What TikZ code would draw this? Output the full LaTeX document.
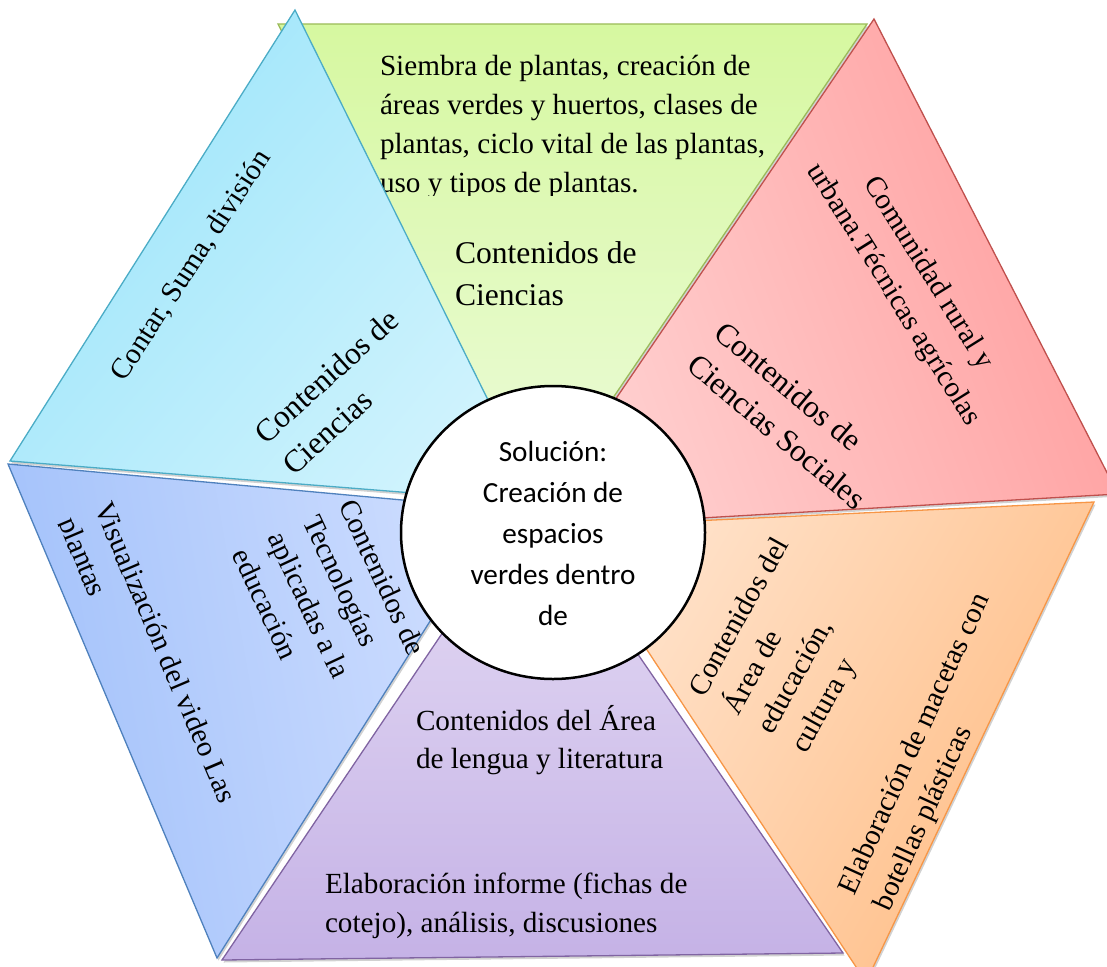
\documentclass[tikz,border=0pt]{standalone}
\usepackage{fontspec}
\setmainfont{Liberation Serif}
\newfontfamily\calibfont{Carlito}
\usetikzlibrary{shadows,shapes.geometric}
\definecolor{grnE}{HTML}{9BBB59}\definecolor{grnA}{HTML}{D6F8A0}\definecolor{grnB}{HTML}{EDFBDC}
\definecolor{cyaE}{HTML}{4BACC6}\definecolor{cyaA}{HTML}{9DE5FA}\definecolor{cyaB}{HTML}{CFF3FD}
\definecolor{redE}{HTML}{C0504D}\definecolor{redA}{HTML}{FF9E9E}\definecolor{redB}{HTML}{FFD2D2}
\definecolor{orgE}{HTML}{F79646}\definecolor{orgA}{HTML}{FFBD85}\definecolor{orgB}{HTML}{FFE3CC}
\definecolor{purE}{HTML}{8064A2}\definecolor{purA}{HTML}{C5B2E6}\definecolor{purB}{HTML}{E5DCF4}
\definecolor{bluE}{HTML}{4F81BD}\definecolor{bluA}{HTML}{A2C1FA}\definecolor{bluB}{HTML}{CFDEFF}
\newcommand\myLblock[2]{\vtop{\baselineskip=#1\relax\lineskiplimit=-100pt\lineskip=0pt\halign{##\hfil\cr#2\crcr}}}
\newcommand\myCblock[2]{\vtop{\baselineskip=#1\relax\lineskiplimit=-100pt\lineskip=0pt\halign{\hfil##\hfil\cr#2\crcr}}}
\newcommand\fontTNR{\fontsize{29.2pt}{39pt}\selectfont}
\newcommand\fontBigTNR{\fontsize{31.6pt}{42pt}\selectfont}
\tikzset{
  tri/.style={line width=1.3pt, line join=miter,
    drop shadow={shadow xshift=1.5pt, shadow yshift=-2.5pt, opacity=0.3, fill=black!60}},
  txt/.style={inner sep=0pt, outer sep=0pt, font=\fontTNR, text=black},
  bigtxt/.style={txt, font=\fontBigTNR},
}
\begin{document}
\begin{tikzpicture}[x=1pt,y=-1pt]
\useasboundingbox (0,0) rectangle (1107,966);
% green (top)
\path[tri, draw=grnE, top color=grnA, bottom color=grnB] (278,24) -- (867,24) -- (530,520) -- cycle;
\begin{scope}
\clip (300,40) rectangle (880,195.5);
\node[txt, anchor=base west] (g1) at (380,75) {\myLblock{39pt}{Siembra de plantas, creación de\cr áreas verdes y huertos, clases de\cr plantas, ciclo vital de las plantas,\cr uso y tipos de plantas.}};
\end{scope}
\node[bigtxt, anchor=base west] (g2) at (455,263) {\myLblock{42pt}{Contenidos de\cr Ciencias}};
% red (top right)
\path[tri, draw=redE, top color=redA, bottom color=redB, shading angle=-70] (874,19) -- (1118,494) -- (528,528) -- cycle;
\node[txt, anchor=base, rotate=-58] (r1) at (922,277) {\myCblock{41pt}{Comunidad rural y\cr urbana.Técnicas agrícolas}};
\node[bigtxt, anchor=base west, rotate=-40] (r2) at (712,336) {\myLblock{42pt}{Contenidos de\cr Ciencias Sociales}};
% orange (bottom right)
\path[tri, draw=orgE, top color=orgA, bottom color=orgB, shading angle=-120] (1094,502) -- (866,982) -- (566,527) -- cycle;
\node[txt, anchor=base west, rotate=61] (o1) at (704,698) {\myLblock{39pt}{Contenidos del\cr Área de\cr educación,\cr cultura y}};
\node[txt, anchor=base west, rotate=65.5] (o2) at (854,896) {\myLblock{39pt}{Elaboración de macetas con\cr botellas plásticas}};
% purple (bottom)
\path[tri, draw=purE, top color=purB, bottom color=purA] (532,500) -- (843,953) -- (222,960) -- cycle;
\node[txt, anchor=base west] (p1) at (416,730) {\myLblock{38.5pt}{Contenidos del Área\cr de lengua y literatura}};
\node[txt, anchor=base west] (p2) at (325,893) {\myLblock{39pt}{Elaboración informe (fichas de\cr cotejo), análisis, discusiones}};
% blue (left)
\path[tri, draw=bluE, top color=bluA, bottom color=bluB, shading angle=100] (8,464) -- (217,958) -- (501,509) -- cycle;
\begin{scope}
\clip (37.1,476.7) -- (232.6,937.2) -- (508.9,819.9) -- (313.4,359.4) -- cycle;
\node[txt, anchor=base west, rotate=-67] (b1) at (94,507) {\myLblock{39pt}{Visualización del video Las\cr plantas}};
\end{scope}
\node[txt, anchor=base west, rotate=-65] (b2) at (338,505) {\myLblock{39pt}{Contenidos de\cr Tecnologías\cr aplicadas a la\cr educación}};
% cyan (top left)
\path[tri, draw=cyaE, top color=cyaA, bottom color=cyaB, shading angle=50] (295,10) -- (10,461) -- (539,503) -- cycle;
\node[txt, anchor=base, rotate=57] (c1) at (198,270) {Contar, Suma, división};
\node[bigtxt, anchor=base west, rotate=42] (c2) at (266,445) {\myLblock{42pt}{Contenidos de\cr Ciencias}};
% centre
\node[ellipse, draw=black, fill=white, line width=2.5pt, minimum width=304pt, minimum height=293pt, inner sep=0pt] (circ) at (553,532.5) {};
\node[inner sep=0pt, anchor=base, font=\calibfont\fontsize{29.2pt}{41pt}\selectfont] (sol) at (553,461) {\myCblock{41pt}{Solución:\cr Creación de\cr espacios\cr verdes dentro\cr de}};
\end{tikzpicture}
\end{document}
